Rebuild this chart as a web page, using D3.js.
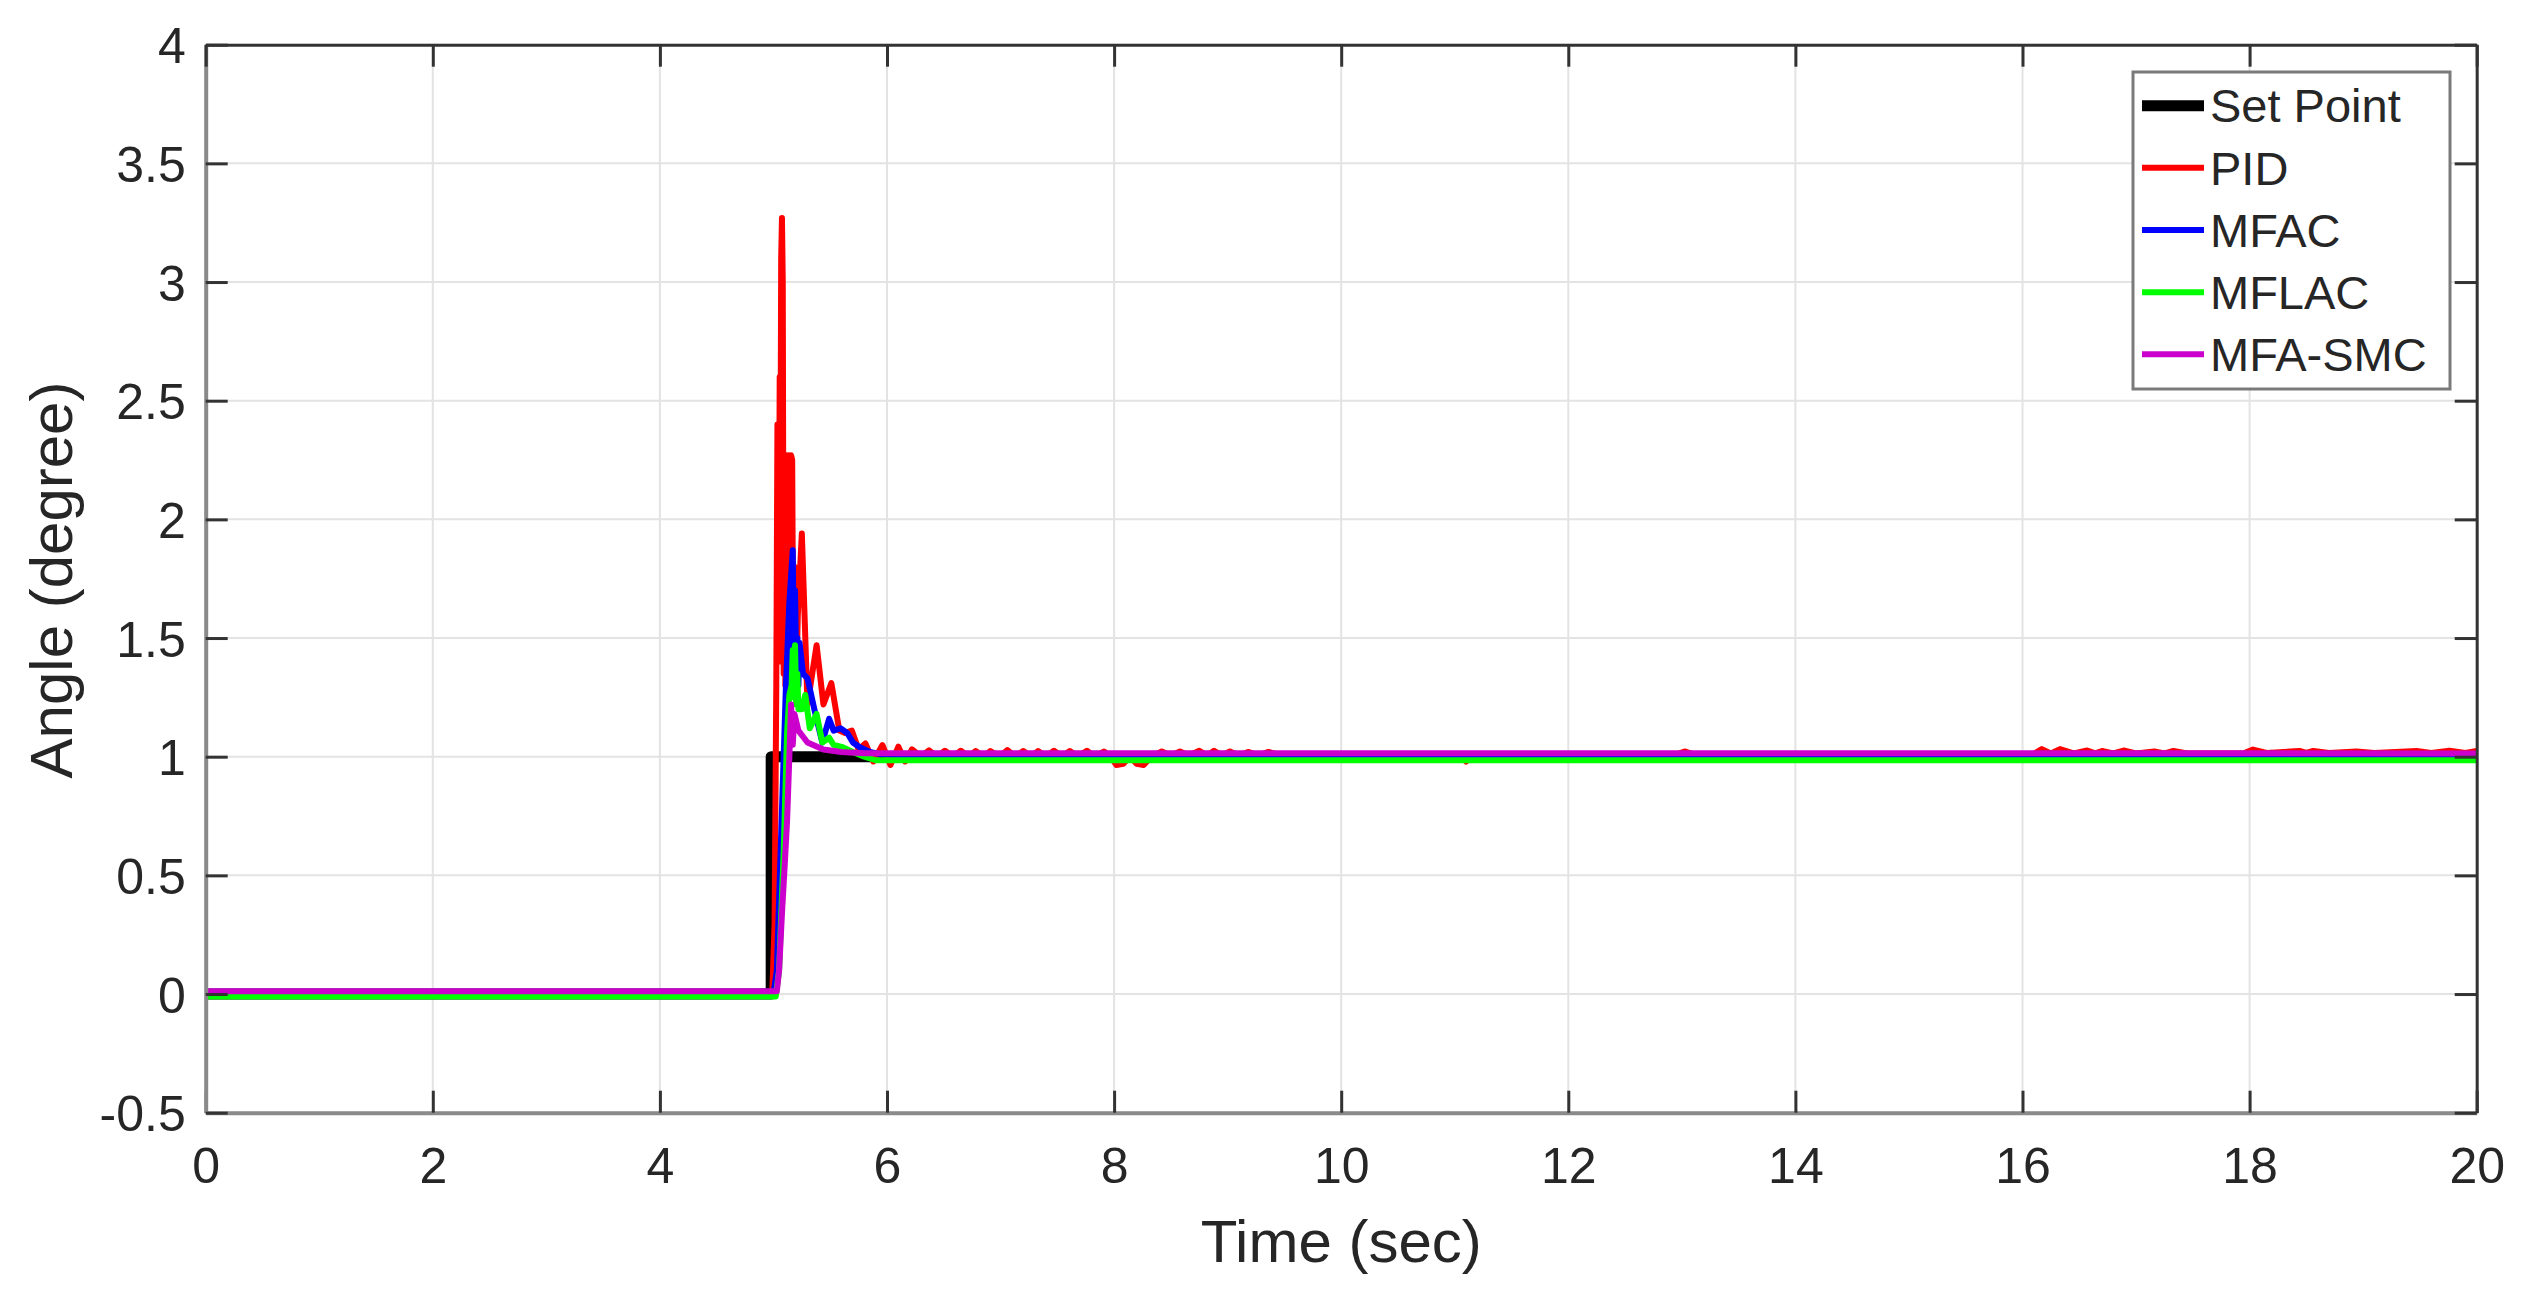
<!DOCTYPE html>
<html>
<head>
<meta charset="utf-8">
<script src="https://cdn.jsdelivr.net/npm/d3@7"></script>
<style>
  body { margin: 0; background: #fff; }
  svg { display: block; }
  text { font-family: "Liberation Sans", Arial, Helvetica, sans-serif; fill: #262626; }
</style>
</head>
<body>
<svg id="chart" width="2527" height="1292"></svg>
<script>
// Tick values
const xTicks = [0, 2, 4, 6, 8, 10, 12, 14, 16, 18, 20];
const yTicks = [-0.5, 0, 0.5, 1, 1.5, 2, 2.5, 3, 3.5, 4];

// Series names and colours (legend order)
const seriesNames = ['Set Point', 'PID', 'MFAC', 'MFLAC', 'MFA-SMC'];
const seriesColors = ['#000000', '#ff0000', '#0000ff', '#00ff00', '#cc00cc'];

// [time (sec), angle (degree)]
const setPoint = [[0, 0], [4.98, 0], [4.98, 1], [20, 1]];

const pid = [
  [0, 0.005], [4.99, 0.005], [5.01, 0.3], [5.025, 1.3], [5.035, 2.4], [5.045, 1.4], [5.055, 2.6],
  [5.062, 2.2], [5.068, 3.1], [5.075, 3.27], [5.082, 3.0], [5.09, 1.35], [5.098, 2.27], [5.105, 1.3],
  [5.115, 2.27], [5.125, 1.3], [5.135, 2.27], [5.145, 1.35], [5.155, 2.27], [5.165, 2.25], [5.175, 1.35],
  [5.185, 1.8], [5.20, 1.3], [5.215, 1.6], [5.25, 1.94], [5.30, 1.22], [5.38, 1.47], [5.44, 1.22],
  [5.51, 1.31], [5.58, 1.11], [5.63, 1.10], [5.69, 1.11], [5.75, 1.03], [5.81, 1.056], [5.88, 0.98],
  [5.96, 1.049], [6.03, 0.965], [6.10, 1.042], [6.16, 0.98], [6.22, 1.031], [6.30, 1.0], [6.37, 1.027],
  [6.44, 1.0], [6.51, 1.025], [6.58, 1.0], [6.65, 1.025], [6.72, 1.0], [6.78, 1.024], [6.85, 1.0],
  [6.91, 1.024], [6.99, 1.0], [7.06, 1.028], [7.13, 1.0], [7.20, 1.024], [7.27, 1.0], [7.33, 1.024],
  [7.40, 1.0], [7.47, 1.025], [7.54, 1.0], [7.61, 1.024], [7.68, 1.0], [7.76, 1.025], [7.83, 1.0],
  [7.91, 1.022], [7.97, 1.0], [8.02, 0.965], [8.08, 0.97], [8.14, 1.0], [8.20, 0.97], [8.26, 0.965],
  [8.33, 1.0], [8.42, 1.022], [8.50, 1.005], [8.58, 1.022], [8.66, 1.005], [8.75, 1.025], [8.82, 1.005],
  [8.88, 1.025], [8.95, 1.005], [9.02, 1.022], [9.10, 1.005], [9.18, 1.02], [9.27, 1.005], [9.36, 1.02],
  [9.45, 1.008], [11.05, 1.008], [11.1, 0.98], [11.15, 1.008], [12.95, 1.01], [13.03, 1.022], [13.1, 1.01],
  [16.1, 1.012], [16.17, 1.032], [16.25, 1.014], [16.33, 1.032], [16.45, 1.014], [16.57, 1.026],
  [16.64, 1.014], [16.70, 1.024], [16.80, 1.014], [16.89, 1.026], [17.0, 1.014], [17.16, 1.022],
  [17.25, 1.014], [17.33, 1.024], [17.45, 1.014], [17.95, 1.014], [18.03, 1.03], [18.15, 1.016],
  [18.44, 1.024], [18.5, 1.016], [18.56, 1.024], [18.7, 1.016], [18.94, 1.022], [19.1, 1.016],
  [19.47, 1.024], [19.6, 1.016], [19.76, 1.025], [19.9, 1.016], [20, 1.024]
];

const mfac = [
  [0, -0.003], [5.0, -0.003], [5.03, 0.1], [5.07, 0.7], [5.11, 1.3], [5.14, 1.65], [5.17, 1.87],
  [5.18, 1.35], [5.19, 1.7], [5.20, 1.4], [5.21, 1.5], [5.22, 1.3], [5.23, 1.48], [5.26, 1.35],
  [5.30, 1.33], [5.36, 1.2], [5.43, 1.06], [5.49, 1.16], [5.53, 1.11], [5.59, 1.12], [5.65, 1.1],
  [5.70, 1.06], [5.76, 1.04], [5.85, 1.02], [5.95, 1.01], [6.2, 1.005], [20, 1.005]
];

const mflac = [
  [0, -0.01], [5.02, -0.01], [5.05, 0.1], [5.09, 0.6], [5.12, 1.1], [5.14, 1.26], [5.16, 1.3],
  [5.17, 1.45], [5.18, 1.25], [5.19, 1.47], [5.20, 1.22], [5.21, 1.35], [5.22, 1.2], [5.25, 1.2],
  [5.28, 1.26], [5.32, 1.12], [5.38, 1.18], [5.43, 1.06], [5.49, 1.08], [5.53, 1.05], [5.61, 1.04],
  [5.70, 1.02], [5.80, 1.0], [5.9, 0.985], [20, 0.985]
];

const mfaSmc = [
  [0, 0.012], [5.03, 0.012], [5.05, 0.1], [5.075, 0.34], [5.10, 0.55], [5.12, 0.73], [5.14, 1.0],
  [5.155, 1.22], [5.17, 1.05], [5.185, 1.18], [5.22, 1.11], [5.30, 1.06], [5.44, 1.03], [5.6, 1.02],
  [5.8, 1.015], [20, 1.014]
];

const allSeries = [setPoint, pid, mfac, mflac, mfaSmc];
const lineWidths = [11, 6, 6, 6, 6];

// Layout
const margin = { left: 205.7, right: 2476.7, top: 44.7, bottom: 1112.7 };
const svg = d3.select('#chart');
svg.append('rect').attr('width', 2527).attr('height', 1292).attr('fill', '#fff');

const x = d3.scaleLinear().domain([0, 20]).range([margin.left, margin.right]);
const y = d3.scaleLinear().domain([-0.5, 4]).range([margin.bottom, margin.top]);

// Grid
const grid = svg.append('g').attr('stroke', '#e3e3e3').attr('stroke-width', 2);
grid.selectAll('.gx').data(xTicks).join('line')
  .attr('x1', d => x(d)).attr('x2', d => x(d))
  .attr('y1', margin.top).attr('y2', margin.bottom);
grid.selectAll('.gy').data(yTicks).join('line')
  .attr('x1', margin.left).attr('x2', margin.right)
  .attr('y1', d => y(d)).attr('y2', d => y(d));

// Lines
svg.append('clipPath').attr('id', 'plotClip')
  .append('rect')
  .attr('x', margin.left).attr('y', margin.top)
  .attr('width', margin.right - margin.left).attr('height', margin.bottom - margin.top);

const lineGen = d3.line().x(d => x(d[0])).y(d => y(d[1]));
const plot = svg.append('g').attr('clip-path', 'url(#plotClip)');
allSeries.forEach((data, i) => {
  plot.append('path')
    .attr('d', lineGen(data))
    .attr('fill', 'none')
    .attr('stroke', seriesColors[i])
    .attr('stroke-width', lineWidths[i])
    .attr('stroke-linejoin', 'round');
});

// Axes (ticks point inward on all four sides)
const fmt = d => String(d);
const tickLen = 22;

const xAxis = svg.append('g').attr('transform', `translate(0,${margin.bottom})`)
  .call(d3.axisBottom(x).tickValues(xTicks).tickFormat(fmt).tickSizeInner(-tickLen).tickSizeOuter(0));
xAxis.selectAll('text').attr('y', 70).attr('dy', null).attr('font-size', 50).attr('fill', '#262626');

const yAxis = svg.append('g').attr('transform', `translate(${margin.left},0)`)
  .call(d3.axisLeft(y).tickValues(yTicks).tickFormat(fmt).tickSizeInner(-tickLen).tickSizeOuter(0));
yAxis.selectAll('text').attr('x', -20).attr('dy', '0.36em').attr('font-size', 50).attr('fill', '#262626');

const topAxis = svg.append('g').attr('transform', `translate(0,${margin.top})`)
  .call(d3.axisTop(x).tickValues(xTicks).tickFormat('').tickSizeInner(-tickLen).tickSizeOuter(0));
const rightAxis = svg.append('g').attr('transform', `translate(${margin.right},0)`)
  .call(d3.axisRight(y).tickValues(yTicks).tickFormat('').tickSizeInner(-tickLen).tickSizeOuter(0));

[xAxis, yAxis, topAxis, rightAxis].forEach(g => {
  g.selectAll('.tick line').attr('stroke', '#333').attr('stroke-width', 3);
  g.select('.domain').attr('stroke-width', 4);
});
xAxis.select('.domain').attr('stroke', '#8a8a8a');
yAxis.select('.domain').attr('stroke', '#8a8a8a');
topAxis.select('.domain').attr('stroke', '#333').attr('stroke-width', 3);
rightAxis.select('.domain').attr('stroke', '#333').attr('stroke-width', 3);

// Axis labels
svg.append('text')
  .attr('x', (margin.left + margin.right) / 2).attr('y', 1262)
  .attr('text-anchor', 'middle').attr('font-size', 60)
  .text('Time (sec)');
svg.append('text')
  .attr('transform', 'translate(72,580) rotate(-90)')
  .attr('text-anchor', 'middle').attr('font-size', 60)
  .text('Angle (degree)');

// Legend
const legend = svg.append('g');
legend.append('rect')
  .attr('x', 2133).attr('y', 72).attr('width', 317).attr('height', 317)
  .attr('fill', '#fff').attr('stroke', '#7a7a7a').attr('stroke-width', 3);
const rowY = d3.scalePoint().domain(seriesNames).range([105.7, 354.3]);
seriesNames.forEach((name, i) => {
  legend.append('line')
    .attr('x1', 2142).attr('x2', 2204)
    .attr('y1', rowY(name)).attr('y2', rowY(name))
    .attr('stroke', seriesColors[i])
    .attr('stroke-width', i === 0 ? 11 : 6);
  legend.append('text')
    .attr('x', 2210).attr('y', rowY(name)).attr('dy', '0.355em')
    .attr('font-size', 47).attr('fill', '#000')
    .text(name);
});
</script>
</body>
</html>
